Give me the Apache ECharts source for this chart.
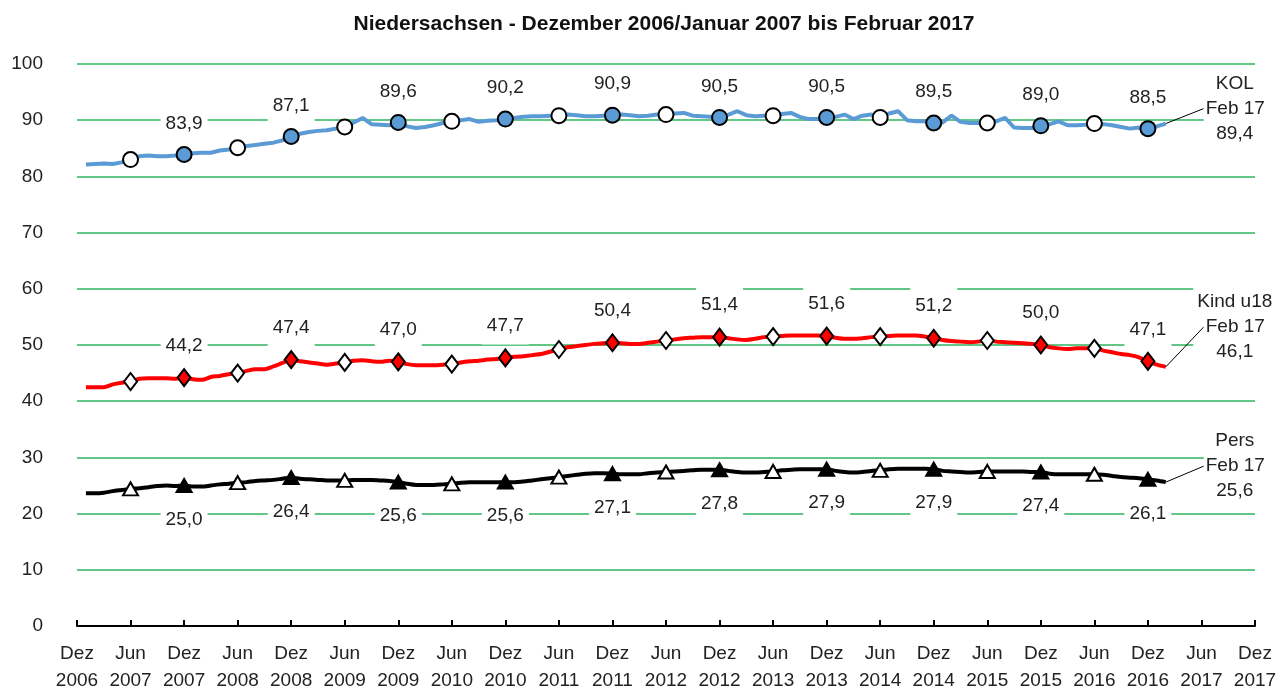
<!DOCTYPE html>
<html>
<head>
<meta charset="utf-8">
<script src="https://cdn.jsdelivr.net/npm/echarts@6/dist/echarts.min.js"></script>
<style>
    html, body { margin: 0; padding: 0; background: #fff; }
    #chart { width: 1278px; height: 690px; }
</style>
</head>
<body>
<div id="chart"></div>
<script>
// Monatswerte Jan 2007 .. Feb 2017 (122 Werte), Quoten in %
var kolValues = [
    82.1, 82.2, 82.3, 82.2, 82.5, 83.0,
    83.6, 83.7, 83.6, 83.6, 83.7, 83.9,
    84.1, 84.2, 84.2, 84.6, 84.8, 85.1,
    85.4, 85.6, 85.8, 86.0, 86.4, 87.1,
    87.6, 87.9, 88.1, 88.2, 88.5, 88.8,
    89.6, 90.4, 89.3, 89.2, 89.1, 89.6,
    88.9, 88.6, 88.8, 89.1, 89.5, 89.8,
    90.0, 90.2, 89.7, 89.9, 90.0, 90.2,
    90.4, 90.6, 90.7, 90.7, 90.8, 90.8,
    91.0, 90.9, 90.7, 90.7, 90.8, 90.9,
    91.0, 90.9, 90.7, 90.8, 91.0, 91.0,
    91.2, 91.3, 90.8, 90.7, 90.6, 90.5,
    91.0, 91.6, 90.9, 90.7, 90.8, 90.8,
    91.1, 91.3, 90.6, 90.2, 90.2, 90.5,
    90.6, 91.0, 90.2, 90.8, 91.0, 90.5,
    91.2, 91.6, 90.0, 89.8, 89.8, 89.5,
    89.6, 90.8, 89.7, 89.5, 89.5, 89.5,
    89.8, 90.4, 88.7, 88.6, 88.6, 89.0,
    89.3, 89.8, 89.1, 89.1, 89.2, 89.4,
    89.3, 89.1, 88.8, 88.5, 88.7, 88.5,
    88.9, 89.4
];
var kindValues = [
    42.5, 42.5, 42.5, 43.0, 43.3, 43.5,
    44.0, 44.1, 44.1, 44.1, 44.0, 44.2,
    43.9, 43.8, 44.3, 44.5, 44.8, 45.0,
    45.4, 45.7, 45.7, 46.2, 46.8, 47.4,
    47.1, 46.9, 46.7, 46.5, 46.7, 46.9,
    47.2, 47.3, 47.1, 47.0, 47.2, 47.0,
    46.6, 46.4, 46.4, 46.4, 46.5, 46.6,
    46.9, 47.1, 47.2, 47.4, 47.5, 47.7,
    47.9, 48.0, 48.2, 48.4, 48.8, 49.2,
    49.6, 49.8, 50.0, 50.2, 50.3, 50.4,
    50.3, 50.2, 50.2, 50.4, 50.6, 50.8,
    51.0, 51.2, 51.3, 51.4, 51.4, 51.4,
    51.2, 51.0, 50.9, 51.1, 51.4, 51.5,
    51.6, 51.7, 51.7, 51.7, 51.7, 51.6,
    51.3, 51.1, 51.1, 51.2, 51.4, 51.5,
    51.6, 51.7, 51.7, 51.7, 51.5, 51.2,
    50.9, 50.7, 50.6, 50.5, 50.6, 50.8,
    50.6, 50.5, 50.4, 50.3, 50.2, 50.0,
    49.6, 49.4, 49.3, 49.4, 49.4, 49.4,
    49.0, 48.7, 48.4, 48.2, 47.8, 47.1,
    46.5, 46.1
];
var persValues = [
    23.6, 23.6, 23.7, 24.0, 24.2, 24.4,
    24.5, 24.7, 24.9, 25.0, 24.9, 25.0,
    24.8, 24.8, 25.0, 25.2, 25.3, 25.5,
    25.6, 25.8, 25.9, 26.0, 26.2, 26.4,
    26.2, 26.1, 26.0, 25.9, 25.9, 25.9,
    26.0, 26.0, 26.0, 25.9, 25.8, 25.6,
    25.3, 25.1, 25.1, 25.1, 25.2, 25.3,
    25.5, 25.6, 25.6, 25.6, 25.6, 25.6,
    25.6, 25.7, 25.9, 26.1, 26.3, 26.5,
    26.7, 26.9, 27.1, 27.2, 27.2, 27.1,
    27.0, 27.0, 27.0, 27.2, 27.3, 27.4,
    27.5, 27.6, 27.7, 27.8, 27.8, 27.8,
    27.6, 27.4, 27.3, 27.3, 27.4, 27.5,
    27.7, 27.8, 27.9, 27.9, 27.9, 27.9,
    27.6, 27.4, 27.3, 27.4, 27.6, 27.7,
    27.9, 28.0, 28.0, 28.0, 28.0, 27.9,
    27.6, 27.5, 27.4, 27.3, 27.4, 27.5,
    27.5, 27.5, 27.5, 27.5, 27.4, 27.4,
    27.1, 27.0, 27.0, 27.0, 27.0, 27.0,
    26.9, 26.7, 26.5, 26.4, 26.3, 26.1,
    25.9, 25.6
];

var seriesNames = ['KOL', 'Kind u18', 'Pers'];
var lastMonthText = 'Feb 17';
var monthNames = ['Jan', 'Feb', 'Mär', 'Apr', 'Mai', 'Jun', 'Jul', 'Aug', 'Sep', 'Okt', 'Nov', 'Dez'];

// Achse: Dez 2006 .. Dez 2017
var categories = [];
for (var i = 0; i <= 132; i++) {
    categories.push(monthNames[(11 + i) % 12] + ' ' + (2006 + Math.floor((11 + i) / 12)));
}

var FONT = 'Liberation Sans';
var TXT = '#222';

function fmt(v) {
    return v.toFixed(1).replace('.', ',');
}

// Marker jeden Jun/Dez, Dez gefuellt + beschriftet, letzter Punkt mit Endblock
function buildData(values, fillColor, name, endDy) {
    var out = ['-'];
    values.forEach(function (v, i) {
        var idx = i + 1;
        var item = { value: v };
        if (idx % 6 === 0) {
            var dez = idx % 12 === 0;
            item.itemStyle = { color: dez ? fillColor : '#fff' };
            if (dez) item.label = { show: true };
        } else if (i === values.length - 1) {
            item.symbol = 'circle';
            item.symbolSize = 0;
            item.itemStyle = { borderWidth: 0 };
            item.label = {
                show: true,
                position: 'right',
                distance: 69,
                align: 'center',
                offset: [0, endDy],
                lineHeight: 25,
                padding: [3, 4],
                formatter: name + '\n\n' + fmt(v)
            };
        } else {
            item.symbol = 'none';
        }
        out.push(item);
    });
    return out;
}

function endData(values) {
    var out = [];
    for (var i = 0; i <= values.length; i++) out.push('-');
    out[values.length] = { value: values[values.length - 1], symbolSize: 0, itemStyle: { borderWidth: 0 } };
    return out;
}

function mainSeries(name, values, color, symbol, size, labelDy, endDy, smooth) {
    return {
        name: name,
        type: 'line',
        data: buildData(values, color, name, endDy),
        smooth: smooth,
        showSymbol: true,
        showAllSymbol: true,
        symbol: symbol,
        symbolSize: size,
        lineStyle: { color: color, width: 4 },
        itemStyle: { color: color, borderColor: '#000', borderWidth: 2 },
        label: {
            show: false,
            position: 'inside',
            offset: [0, labelDy],
            fontFamily: FONT,
            fontSize: 19,
            color: TXT,
            backgroundColor: '#fff',
            padding: [9, 5],
            formatter: function (p) { return fmt(p.value); }
        },
        z: 2
    };
}

function feb17Series(values, endDy) {
    return {
        type: 'line',
        data: endData(values),
        symbol: 'circle',
        showSymbol: true,
        showAllSymbol: true,
        lineStyle: { opacity: 0 },
        itemStyle: { color: '#000' },
        label: {
            show: true,
            position: 'right',
            distance: 38,
            fontFamily: FONT,
            fontSize: 19,
            color: TXT,
            backgroundColor: '#fff',
            padding: [3, 2],
            formatter: lastMonthText
        },
        labelLine: { show: true, length2: 10, lineStyle: { color: '#000', width: 1 } },
        labelLayout: { dy: endDy },
        z: 5
    };
}

var chart = echarts.init(document.getElementById('chart'), null, { renderer: 'canvas' });
chart.setOption({
    animation: false,
    backgroundColor: '#fff',
    title: {
        text: 'Niedersachsen - Dezember 2006/Januar 2007 bis Februar 2017',
        left: 659,
        top: 9,
        textAlign: 'center',
        textStyle: { fontFamily: FONT, fontSize: 21, fontWeight: 'bold', color: '#111' }
    },
    grid: { left: 77, right: 23, top: 64, bottom: 64, containLabel: false, outerBoundsMode: 'none' },
    xAxis: {
        type: 'category',
        data: categories,
        boundaryGap: false,
        axisLine: { show: true, lineStyle: { color: '#000', width: 2 } },
        axisTick: { show: true, inside: true, length: 6, interval: 5, lineStyle: { color: '#000', width: 2 } },
        axisLabel: {
            interval: 5,
            margin: 14,
            fontFamily: FONT,
            fontSize: 19,
            lineHeight: 27,
            color: TXT,
            formatter: function (v) { return v.split(' ').join('\n'); }
        },
        splitLine: { show: false }
    },
    yAxis: {
        type: 'value',
        min: 0,
        max: 100,
        interval: 10,
        axisLine: { show: false },
        axisTick: { show: false },
        axisLabel: { margin: 34, fontFamily: FONT, fontSize: 19, color: TXT },
        splitLine: { lineStyle: { color: '#2db35e', width: 1.5 } }
    },
    series: [
        mainSeries(seriesNames[0], kolValues, '#5B9BD5', 'circle', 15, -31, -15, false),
        mainSeries(seriesNames[1], kindValues, '#FF0000', 'diamond', [13, 17], -32, -40, 0.3),
        mainSeries(seriesNames[2], persValues, '#000000', 'triangle', [15, 13], 34, -16, 0.3),
        feb17Series(kolValues, -15),
        feb17Series(kindValues, -40),
        feb17Series(persValues, -16)
    ]
});
</script>
</body>
</html>
